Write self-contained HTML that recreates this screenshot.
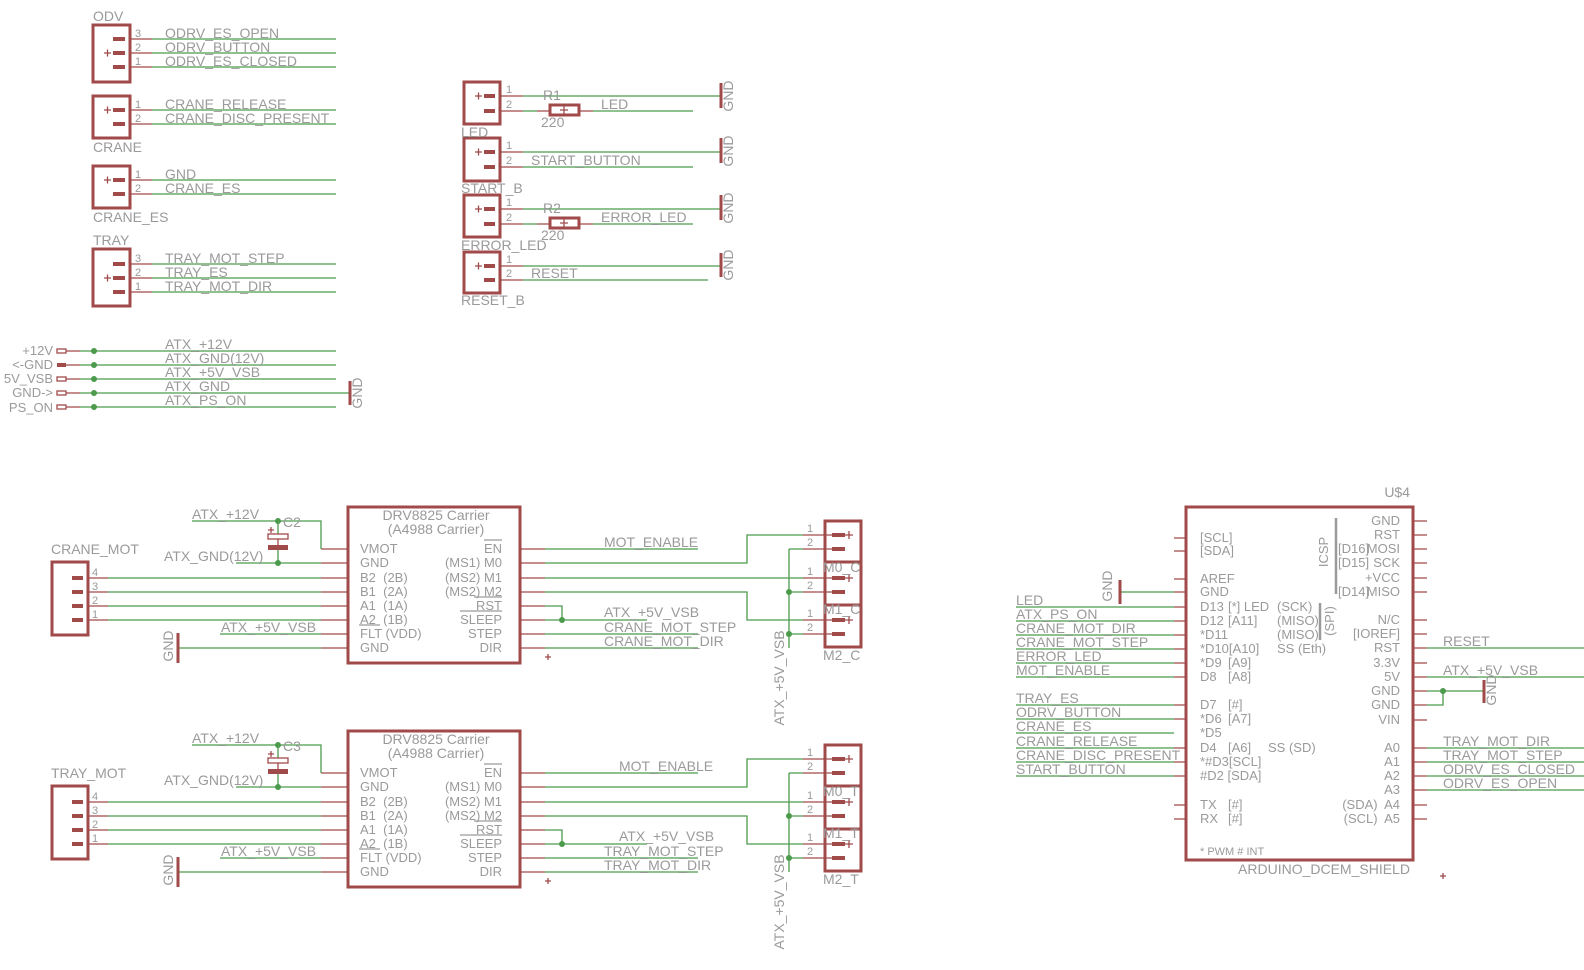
<!DOCTYPE html>
<html><head><meta charset="utf-8"><style>
html,body{margin:0;padding:0;background:#fff}
svg{display:block}
text{font-family:"Liberation Sans",sans-serif;font-size:14px;fill:#9a9a9a}
.s{font-size:11px}
.a{font-size:13px}
.g{stroke:#4c9a4c;stroke-width:1.3;fill:none}
.m{stroke:#a04a4a;stroke-width:1.3;fill:none}
.b{stroke:#a04a4a;stroke-width:3;fill:none}
.p{fill:#a04a4a}
.d{fill:#4c9a4c}
.o{stroke:#9a9a9a;stroke-width:1.2}
</style></head><body>
<svg width="1584" height="970" viewBox="0 0 1584 970" xmlns="http://www.w3.org/2000/svg">
<defs>
<g id="drv">
<rect x="348" y="507" width="172" height="156" class="b"/>
<path class="m" d="M321 549H348M321 563H348M321 578H348M321 592H348M321 606H348M321 620H348M321 634H348M321 648H348M520 549H545M520 563H545M520 578H545M520 592H545M520 606H545M520 620H545M520 634H545M520 648H545"/>
<rect x="52" y="562" width="36" height="73" class="b"/>
<rect x="72" y="576" width="11" height="4" class="p"/><rect x="72" y="590" width="11" height="4" class="p"/><rect x="72" y="604" width="11" height="4" class="p"/><rect x="72" y="618" width="11" height="4" class="p"/>
<path class="m" d="M88 578H108M88 592H108M88 606H108M88 620H108"/>
<path class="g" d="M108 578H321M108 592H321M108 606H321M108 620H321M192 521H321V549M278 521V534M236 563H321M278 550V563M220 634H321M178 648H321"/>
<rect x="268" y="534" width="20" height="5" class="m" stroke-width="2"/>
<rect x="268" y="545" width="20" height="5" class="p"/>
<path class="m" d="M278 539V545M268 530H274M271 527V533"/>
<circle cx="278" cy="521" r="3" class="d"/><circle cx="278" cy="563" r="3" class="d"/>
<path class="b" d="M178 633V663"/>
<path class="g" d="M545 549H698M545 563H747V535H803M545 578H803M545 592H747V620H803M545 606H562V620M545 620H647M545 634H698M545 648H698M789 549V648M789 549H803M789 592H803M789 634H803"/>
<circle cx="562" cy="620" r="3" class="d"/><circle cx="789" cy="592" r="3" class="d"/><circle cx="789" cy="634" r="3" class="d"/>
<path class="m" d="M803 535H832M803 549H832M803 578H832M803 592H832M803 620H832M803 634H832M545 657H551M548 654V660"/>
<rect x="825" y="521" width="36" height="41" class="b"/><rect x="825" y="562" width="36" height="43" class="b"/><rect x="825" y="605" width="36" height="42" class="b"/>
<rect x="832" y="533" width="13" height="4" class="p"/><rect x="832" y="547" width="13" height="4" class="p"/><rect x="832" y="576" width="13" height="4" class="p"/><rect x="832" y="590" width="13" height="4" class="p"/><rect x="832" y="618" width="13" height="4" class="p"/><rect x="832" y="632" width="13" height="4" class="p"/>
<path class="m" d="M845 535H853M849 531V539M845 578H853M849 574V582M845 620H853M849 616V624"/>
<path class="o" d="M484 540H502M474 597H502M460 611H502M359 625H380"/>
</g>
</defs>

<!-- ODV -->
<text x="93" y="21">ODV</text>
<rect x="93" y="25" width="37" height="57" class="b"/>
<rect x="113" y="37" width="12" height="4" class="p"/><rect x="113" y="51" width="12" height="4" class="p"/><rect x="113" y="65" width="12" height="4" class="p"/>
<path class="m" d="M104 53H111M107.5 49.5V56.5M131 39H152M131 53H152M131 67H152"/>
<path class="g" d="M152 39H336M152 53H336M152 67H336"/>
<text class="s" x="135" y="37">3</text><text class="s" x="135" y="51">2</text><text class="s" x="135" y="65">1</text>
<text x="165" y="38">ODRV_ES_OPEN</text><text x="165" y="52">ODRV_BUTTON</text><text x="165" y="66">ODRV_ES_CLOSED</text>
<!-- CRANE -->
<rect x="93" y="96" width="37" height="42" class="b"/>
<rect x="113" y="108" width="12" height="4" class="p"/><rect x="113" y="122" width="12" height="4" class="p"/>
<path class="m" d="M104 110H111M107.5 106.5V113.5M131 110H152M131 124H152"/>
<path class="g" d="M152 110H336M152 124H336"/>
<text class="s" x="135" y="108">1</text><text class="s" x="135" y="122">2</text>
<text x="165" y="109">CRANE_RELEASE</text><text x="165" y="123">CRANE_DISC_PRESENT</text>
<text x="93" y="152">CRANE</text>
<!-- CRANE_ES -->
<rect x="93" y="166" width="37" height="42" class="b"/>
<rect x="113" y="178" width="12" height="4" class="p"/><rect x="113" y="192" width="12" height="4" class="p"/>
<path class="m" d="M104 180H111M107.5 176.5V183.5M131 180H152M131 194H152"/>
<path class="g" d="M152 180H336M152 194H336"/>
<text class="s" x="135" y="178">1</text><text class="s" x="135" y="192">2</text>
<text x="165" y="179">GND</text><text x="165" y="193">CRANE_ES</text>
<text x="93" y="222">CRANE_ES</text>
<!-- TRAY -->
<text x="93" y="245">TRAY</text>
<rect x="93" y="249" width="37" height="57" class="b"/>
<rect x="113" y="262" width="12" height="4" class="p"/><rect x="113" y="276" width="12" height="4" class="p"/><rect x="113" y="290" width="12" height="4" class="p"/>
<path class="m" d="M104 278H111M107.5 274.5V281.5M131 264H152M131 278H152M131 292H152"/>
<path class="g" d="M152 264H336M152 278H336M152 292H336"/>
<text class="s" x="135" y="262">3</text><text class="s" x="135" y="276">2</text><text class="s" x="135" y="290">1</text>
<text x="165" y="263">TRAY_MOT_STEP</text><text x="165" y="277">TRAY_ES</text><text x="165" y="291">TRAY_MOT_DIR</text>

<!-- ATX -->
<text class="a" x="53" y="355" text-anchor="end">+12V</text>
<text class="a" x="53" y="369" text-anchor="end">&lt;-GND</text>
<text class="a" x="53" y="383" text-anchor="end">5V_VSB</text>
<text class="a" x="53" y="397" text-anchor="end">GND-&gt;</text>
<text class="a" x="53" y="412" text-anchor="end">PS_ON</text>
<rect x="57" y="349" width="9" height="4" class="m" stroke-width="1.5"/><rect x="57" y="363" width="9" height="4" class="p"/><rect x="57" y="377" width="9" height="4" class="m" stroke-width="1.5"/><rect x="57" y="391" width="9" height="4" class="m" stroke-width="1.5"/><rect x="57" y="405" width="9" height="4" class="m" stroke-width="1.5"/>
<path class="m" d="M66 351H80M66 365H80M66 379H80M66 393H80M66 407H80"/>
<path class="g" d="M80 351H336M80 365H336M80 379H336M80 393H350M80 407H336"/>
<circle cx="94" cy="351" r="3" class="d"/><circle cx="94" cy="365" r="3" class="d"/><circle cx="94" cy="379" r="3" class="d"/><circle cx="94" cy="393" r="3" class="d"/><circle cx="94" cy="407" r="3" class="d"/>
<path class="b" d="M350 381V405"/>
<text x="165" y="349">ATX_+12V</text><text x="165" y="363">ATX_GND(12V)</text><text x="165" y="377">ATX_+5V_VSB</text><text x="165" y="391">ATX_GND</text><text x="165" y="405">ATX_PS_ON</text>
<text transform="translate(362 393) rotate(-90)" text-anchor="middle">GND</text>

<!-- middle column -->
<g transform="translate(3 0)">
<rect x="461" y="82" width="36" height="42" class="b"/><rect x="461" y="138" width="36" height="43" class="b"/><rect x="461" y="195" width="36" height="42" class="b"/><rect x="461" y="252" width="36" height="41" class="b"/>
<rect x="481" y="94" width="11" height="4" class="p"/><rect x="481" y="109" width="11" height="4" class="p"/>
<rect x="481" y="150" width="11" height="4" class="p"/><rect x="481" y="165" width="11" height="4" class="p"/>
<rect x="481" y="207" width="11" height="4" class="p"/><rect x="481" y="222" width="11" height="4" class="p"/>
<rect x="481" y="264" width="11" height="4" class="p"/><rect x="481" y="278" width="11" height="4" class="p"/>
<path class="m" d="M472 96H479M475.5 92.5V99.5M472 152H479M475.5 148.5V155.5M472 209H479M475.5 205.5V212.5M472 266H479M475.5 262.5V269.5"/>
<path class="m" d="M497 96H520M497 111H520M497 152H520M497 167H520M497 209H520M497 224H520M497 266H520M497 280H520M534 111H547M576 111H590M534 224H547M576 224H590"/>
<rect x="547" y="105" width="29" height="10" class="b"/><rect x="547" y="218" width="29" height="10" class="b"/>
<path class="m" d="M557 110H565M561 106V114M557 223H565M561 219V227"/>
<path class="g" d="M520 96H718M520 111H534M590 111H690M520 152H718M520 167H690M520 209H718M520 224H534M590 224H690M520 266H718M520 280H705"/>
<path class="b" d="M718 83V108M718 138V163M718 195V220M718 253V277"/>
<text class="s" x="503" y="93">1</text><text class="s" x="503" y="108">2</text><text class="s" x="503" y="149">1</text><text class="s" x="503" y="164">2</text><text class="s" x="503" y="206">1</text><text class="s" x="503" y="221">2</text><text class="s" x="503" y="263">1</text><text class="s" x="503" y="277">2</text>
<text x="540" y="100">R1</text><text x="538" y="127">220</text><text x="598" y="109">LED</text>
<text x="458" y="137">LED</text>
<text x="528" y="165">START_BUTTON</text><text x="458" y="193">START_B</text>
<text x="540" y="213">R2</text><text x="538" y="240">220</text><text x="598" y="222">ERROR_LED</text>
<text x="458" y="250">ERROR_LED</text>
<text x="528" y="278">RESET</text><text x="458" y="305">RESET_B</text>
<text transform="translate(730 96) rotate(-90)" text-anchor="middle">GND</text>
<text transform="translate(730 151) rotate(-90)" text-anchor="middle">GND</text>
<text transform="translate(730 208) rotate(-90)" text-anchor="middle">GND</text>
<text transform="translate(730 265) rotate(-90)" text-anchor="middle">GND</text>
</g>

<!-- Drivers -->
<use href="#drv"/>
<use href="#drv" transform="translate(0 224)"/>
<g>
<text x="436" y="520" text-anchor="middle">DRV8825 Carrier</text><text x="436" y="534" text-anchor="middle">(A4988 Carrier)</text>
<text class="a" x="360" y="553">VMOT</text><text class="a" x="360" y="567">GND</text><text class="a" x="360" y="582" xml:space="preserve">B2  (2B)</text><text class="a" x="360" y="596" xml:space="preserve">B1  (2A)</text><text class="a" x="360" y="610" xml:space="preserve">A1  (1A)</text><text class="a" x="360" y="624" xml:space="preserve">A2  (1B)</text><text class="a" x="360" y="638">FLT (VDD)</text><text class="a" x="360" y="652">GND</text>
<text class="a" x="502" y="553" text-anchor="end">EN</text><text class="a" x="502" y="567" text-anchor="end">(MS1) M0</text><text class="a" x="502" y="582" text-anchor="end">(MS2) M1</text><text class="a" x="502" y="596" text-anchor="end">(MS2) M2</text><text class="a" x="502" y="610" text-anchor="end">RST</text><text class="a" x="502" y="624" text-anchor="end">SLEEP</text><text class="a" x="502" y="638" text-anchor="end">STEP</text><text class="a" x="502" y="652" text-anchor="end">DIR</text>
<text x="51" y="554">CRANE_MOT</text>
<text class="s" x="92" y="576">4</text><text class="s" x="92" y="590">3</text><text class="s" x="92" y="604">2</text><text class="s" x="92" y="618">1</text>
<text x="283" y="527">C2</text>
<text x="192" y="519">ATX_+12V</text><text x="164" y="561">ATX_GND(12V)</text><text x="221" y="632">ATX_+5V_VSB</text>
<text transform="translate(173 646) rotate(-90)" text-anchor="middle">GND</text>
<text x="604" y="547">MOT_ENABLE</text><text x="604" y="617">ATX_+5V_VSB</text><text x="604" y="632">CRANE_MOT_STEP</text><text x="604" y="646">CRANE_MOT_DIR</text>
<text class="s" x="807" y="532">1</text><text class="s" x="807" y="546">2</text><text class="s" x="807" y="575">1</text><text class="s" x="807" y="589">2</text><text class="s" x="807" y="617">1</text><text class="s" x="807" y="631">2</text>
<text x="823" y="572">M0_C</text><text x="823" y="614">M1_C</text><text x="823" y="660">M2_C</text>
<text transform="translate(784 678) rotate(-90)" text-anchor="middle">ATX_+5V_VSB</text>
</g>
<g>
<text x="436" y="744" text-anchor="middle">DRV8825 Carrier</text><text x="436" y="758" text-anchor="middle">(A4988 Carrier)</text>
<text class="a" x="360" y="777">VMOT</text><text class="a" x="360" y="791">GND</text><text class="a" x="360" y="806" xml:space="preserve">B2  (2B)</text><text class="a" x="360" y="820" xml:space="preserve">B1  (2A)</text><text class="a" x="360" y="834" xml:space="preserve">A1  (1A)</text><text class="a" x="360" y="848" xml:space="preserve">A2  (1B)</text><text class="a" x="360" y="862">FLT (VDD)</text><text class="a" x="360" y="876">GND</text>
<text class="a" x="502" y="777" text-anchor="end">EN</text><text class="a" x="502" y="791" text-anchor="end">(MS1) M0</text><text class="a" x="502" y="806" text-anchor="end">(MS2) M1</text><text class="a" x="502" y="820" text-anchor="end">(MS2) M2</text><text class="a" x="502" y="834" text-anchor="end">RST</text><text class="a" x="502" y="848" text-anchor="end">SLEEP</text><text class="a" x="502" y="862" text-anchor="end">STEP</text><text class="a" x="502" y="876" text-anchor="end">DIR</text>
<text x="51" y="778">TRAY_MOT</text>
<text class="s" x="92" y="800">4</text><text class="s" x="92" y="814">3</text><text class="s" x="92" y="828">2</text><text class="s" x="92" y="842">1</text>
<text x="283" y="751">C3</text>
<text x="192" y="743">ATX_+12V</text><text x="164" y="785">ATX_GND(12V)</text><text x="221" y="856">ATX_+5V_VSB</text>
<text transform="translate(173 870) rotate(-90)" text-anchor="middle">GND</text>
<text x="619" y="771">MOT_ENABLE</text><text x="619" y="841">ATX_+5V_VSB</text><text x="604" y="856">TRAY_MOT_STEP</text><text x="604" y="870">TRAY_MOT_DIR</text>
<text class="s" x="807" y="756">1</text><text class="s" x="807" y="770">2</text><text class="s" x="807" y="799">1</text><text class="s" x="807" y="813">2</text><text class="s" x="807" y="841">1</text><text class="s" x="807" y="855">2</text>
<text x="823" y="796">M0_T</text><text x="823" y="838">M1_T</text><text x="823" y="884">M2_T</text>
<text transform="translate(784 902) rotate(-90)" text-anchor="middle">ATX_+5V_VSB</text>
</g>

<!-- Arduino -->
<rect x="1186" y="507" width="227" height="353" class="b"/>
<path class="m" d="M1174 538H1186M1174 551H1186M1174 579H1186M1174 592H1186M1174 607H1186M1174 621H1186M1174 635H1186M1174 649H1186M1174 663H1186M1174 677H1186M1174 705H1186M1174 719H1186M1174 748H1186M1174 762H1186M1174 776H1186M1174 805H1186M1174 819H1186"/>
<path class="m" d="M1413 521H1427M1413 535H1427M1413 549H1427M1413 563H1427M1413 578H1427M1413 592H1427M1413 620H1427M1413 634H1427M1413 648H1427M1413 663H1427M1413 677H1427M1413 691H1427M1413 705H1427M1413 720H1427M1413 748H1427M1413 762H1427M1413 776H1427M1413 790H1427M1413 805H1427M1413 819H1427"/>
<path class="g" d="M1120 592H1174M1016 607H1174M1016 621H1174M1016 635H1174M1016 649H1174M1016 663H1174M1016 677H1174M1016 705H1174M1016 719H1174M1016 733H1174M1016 748H1174M1016 762H1174M1016 776H1174"/>
<path class="g" d="M1427 648H1584M1427 677H1584M1427 691H1484M1427 705H1443V691M1427 748H1584M1427 762H1584M1427 776H1584M1427 790H1584"/>
<circle cx="1443" cy="691" r="3" class="d"/>
<path class="b" d="M1120 580V604M1484 680V703"/>
<path stroke="#9a9a9a" stroke-width="2.5" d="M1336 518V594M1320 603V640"/>
<text transform="translate(1112 586) rotate(-90)" text-anchor="middle">GND</text>
<text transform="translate(1496 690) rotate(-90)" text-anchor="middle">GND</text>
<text transform="translate(1328 552) rotate(-90)" text-anchor="middle" class="a">ICSP</text>
<text transform="translate(1334 621) rotate(-90)" text-anchor="middle" class="a">(SPI)</text>
<text x="1410" y="497" text-anchor="end">U$4</text>
<text class="a" x="1200" y="542">[SCL]</text><text class="a" x="1200" y="555">[SDA]</text><text class="a" x="1200" y="583">AREF</text><text class="a" x="1200" y="596">GND</text>
<text class="a" x="1200" y="611">D13</text><text class="a" x="1228" y="611">[*] LED</text>
<text class="a" x="1200" y="625">D12</text><text class="a" x="1228" y="625">[A11]</text>
<text class="a" x="1200" y="639">*D11</text>
<text class="a" x="1200" y="653">*D10[A10]</text>
<text class="a" x="1200" y="667">*D9</text><text class="a" x="1228" y="667">[A9]</text>
<text class="a" x="1200" y="681">D8</text><text class="a" x="1228" y="681">[A8]</text>
<text class="a" x="1200" y="709">D7</text><text class="a" x="1228" y="709">[#]</text>
<text class="a" x="1200" y="723">*D6</text><text class="a" x="1228" y="723">[A7]</text>
<text class="a" x="1200" y="737">*D5</text>
<text class="a" x="1200" y="752">D4</text><text class="a" x="1228" y="752">[A6]</text>
<text class="a" x="1200" y="766">*#D3[SCL]</text>
<text class="a" x="1200" y="780">#D2 [SDA]</text>
<text class="a" x="1200" y="809">TX</text><text class="a" x="1228" y="809">[#]</text>
<text class="a" x="1200" y="823">RX</text><text class="a" x="1228" y="823">[#]</text>
<text class="s" x="1200" y="855">* PWM # INT</text>
<text class="a" x="1277" y="611">(SCK)</text><text class="a" x="1277" y="625">(MISO)</text><text class="a" x="1277" y="639">(MISO)</text><text class="a" x="1277" y="653">SS (Eth)</text>
<text class="a" x="1268" y="752">SS (SD)</text>
<text class="a" x="1338" y="553">[D16]</text><text class="a" x="1338" y="567">[D15]</text><text class="a" x="1338" y="596">[D14]</text>
<g text-anchor="end">
<text class="a" x="1400" y="525">GND</text><text class="a" x="1400" y="539">RST</text><text class="a" x="1400" y="553">MOSI</text><text class="a" x="1400" y="567">SCK</text><text class="a" x="1400" y="582">+VCC</text><text class="a" x="1400" y="596">MISO</text>
<text class="a" x="1400" y="624">N/C</text><text class="a" x="1400" y="638">[IOREF]</text><text class="a" x="1400" y="652">RST</text><text class="a" x="1400" y="667">3.3V</text><text class="a" x="1400" y="681">5V</text><text class="a" x="1400" y="695">GND</text><text class="a" x="1400" y="709">GND</text><text class="a" x="1400" y="724">VIN</text>
<text class="a" x="1400" y="752">A0</text><text class="a" x="1400" y="766">A1</text><text class="a" x="1400" y="780">A2</text><text class="a" x="1400" y="794">A3</text><text class="a" x="1400" y="809" xml:space="preserve">(SDA)  A4</text><text class="a" x="1400" y="823" xml:space="preserve">(SCL)  A5</text>
</g>
<text x="1016" y="605">LED</text><text x="1016" y="619">ATX_PS_ON</text><text x="1016" y="633">CRANE_MOT_DIR</text><text x="1016" y="647">CRANE_MOT_STEP</text><text x="1016" y="661">ERROR_LED</text><text x="1016" y="675">MOT_ENABLE</text>
<text x="1016" y="703">TRAY_ES</text><text x="1016" y="717">ODRV_BUTTON</text><text x="1016" y="731">CRANE_ES</text><text x="1016" y="746">CRANE_RELEASE</text><text x="1016" y="760">CRANE_DISC_PRESENT</text><text x="1016" y="774">START_BUTTON</text>
<text x="1443" y="646">RESET</text><text x="1443" y="675">ATX_+5V_VSB</text>
<text x="1443" y="746">TRAY_MOT_DIR</text><text x="1443" y="760">TRAY_MOT_STEP</text><text x="1443" y="774">ODRV_ES_CLOSED</text><text x="1443" y="788">ODRV_ES_OPEN</text>
<text x="1324" y="874" text-anchor="middle">ARDUINO_DCEM_SHIELD</text>
<path class="m" d="M1440 876H1446M1443 873V879"/>
</svg>
</body></html>
